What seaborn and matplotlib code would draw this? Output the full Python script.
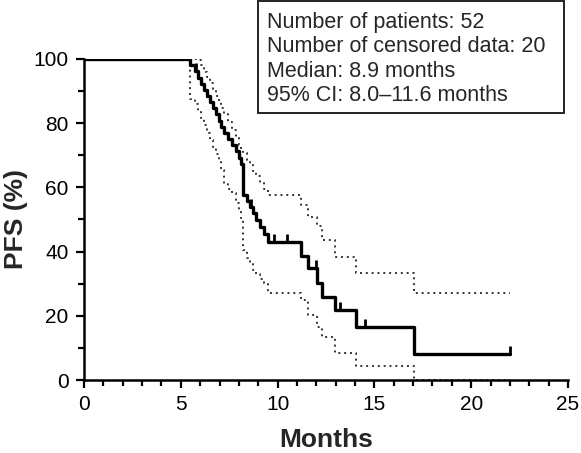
import pandas as pd
import seaborn as sns
import matplotlib.pyplot as plt
from matplotlib.path import Path
from matplotlib.patches import Rectangle
from matplotlib.ticker import MultipleLocator

# Kaplan-Meier PFS curve (months, %)
months = [0, 5.5, 5.75, 5.9, 6.05, 6.2, 6.35, 6.5, 6.65, 6.8, 6.95, 7.1, 7.25,
          7.45, 7.65, 7.85, 8.0, 8.1, 8.2, 8.4, 8.55, 8.75, 8.9, 9.1, 9.3, 9.5,
          11.2, 11.57, 12.04, 12.29, 12.96, 14.05, 17.05, 22.0]
pfs = [100, 98.1, 96.2, 94.2, 92.3, 90.4, 88.5, 86.5, 84.6, 82.7, 80.8, 78.8,
       76.9, 75.0, 73.1, 71.2, 69.2, 67.3, 57.7, 55.8, 53.8, 51.9, 49.9, 47.8,
       45.6, 43.0, 38.6, 34.9, 30.2, 25.9, 21.8, 16.5, 8.1, 8.1]
ci_upper = [100, 100, 100, 99.5, 98, 96, 94.3, 92.4, 90.5, 88.6, 86.7, 84.8,
            82.9, 80.4, 77.8, 75.3, 73.3, 72, 70.7, 68.5, 67, 65, 63.5, 61.5,
            59.5, 57.5, 54.5, 50.8, 48, 43.6, 38.3, 33.3, 27.1, 27.1]
ci_lower = [100, 87.5, 86, 83.8, 81.5, 79.3, 77, 74.8, 72.5, 70.3, 68, 65.5,
            61, 59.5, 58.3, 55, 52.5, 50.5, 40.5, 38, 36, 34.3, 33, 31.5,
            30.2, 27.1, 24.9, 20.2, 16.5, 13.4, 8.5, 4.4, 0, 0]

censor_months = [5.8, 8.65, 9.8, 10.5, 12.0, 13.2, 14.5, 22.0]
censor_pfs = [96.2, 53.8, 43.0, 43.0, 34.9, 21.8, 16.5, 8.1]

info_lines = ["Number of patients: 52",
              "Number of censored data: 20",
              "Median: 8.9 months",
              "95% CI: 8.0\u201311.6 months"]

df = pd.DataFrame({"Months": months, "PFS": pfs,
                   "Upper": ci_upper, "Lower": ci_lower})

sns.set_style("ticks")
plt.rcParams['font.family'] = ['Liberation Sans', 'DejaVu Sans']

fig = plt.figure(figsize=(5.81, 4.53), dpi=100)
ax = fig.add_axes([0.1446, 0.161, 0.833, 0.709])

sns.lineplot(data=df, x="Months", y="Upper", ax=ax, estimator=None,
             drawstyle="steps-post", color="#333333", linestyle=(0, (1, 2)),
             linewidth=1.4)
sns.lineplot(data=df, x="Months", y="Lower", ax=ax, estimator=None,
             drawstyle="steps-post", color="#333333", linestyle=(0, (1, 2)),
             linewidth=1.4)
sns.lineplot(data=df, x="Months", y="PFS", ax=ax, estimator=None,
             drawstyle="steps-post", color="black", linewidth=2.4)

# censor ticks pointing up from the curve
tick_up = Path([[0, 0], [0, 1]])
ax.plot(censor_months, censor_pfs, linestyle="none", marker=tick_up,
        markersize=12, markeredgewidth=2, color="black")

ax.set_xlim(0, 25)
ax.set_ylim(0, 100)
ax.xaxis.set_major_locator(MultipleLocator(5))
ax.xaxis.set_minor_locator(MultipleLocator(1))
ax.yaxis.set_major_locator(MultipleLocator(20))
ax.yaxis.set_minor_locator(MultipleLocator(10))
ax.tick_params(which="major", length=6, width=1.6, labelsize=15, pad=5,
               color="black", labelcolor="black")
ax.tick_params(which="minor", length=4, width=1.6, color="black")
sns.despine(ax=ax)
for s in ["left", "bottom"]:
    ax.spines[s].set_linewidth(1.8)
    ax.spines[s].set_color("black")

ax.set_xlabel("Months", fontsize=19, fontweight="bold", labelpad=10)
ax.set_ylabel("PFS (%)", fontsize=19, fontweight="bold", labelpad=4)

# info box
fig.patches.append(Rectangle((0.444, 0.7506), 0.527, 0.247, transform=fig.transFigure,
                             fill=False, edgecolor="#222222", linewidth=1.4))
for i, line in enumerate(info_lines):
    fig.text(0.4596, 0.950 - i * 0.0537, line, fontsize=15.5, va="center", ha="left")

fig.savefig("out.png", dpi=100)
